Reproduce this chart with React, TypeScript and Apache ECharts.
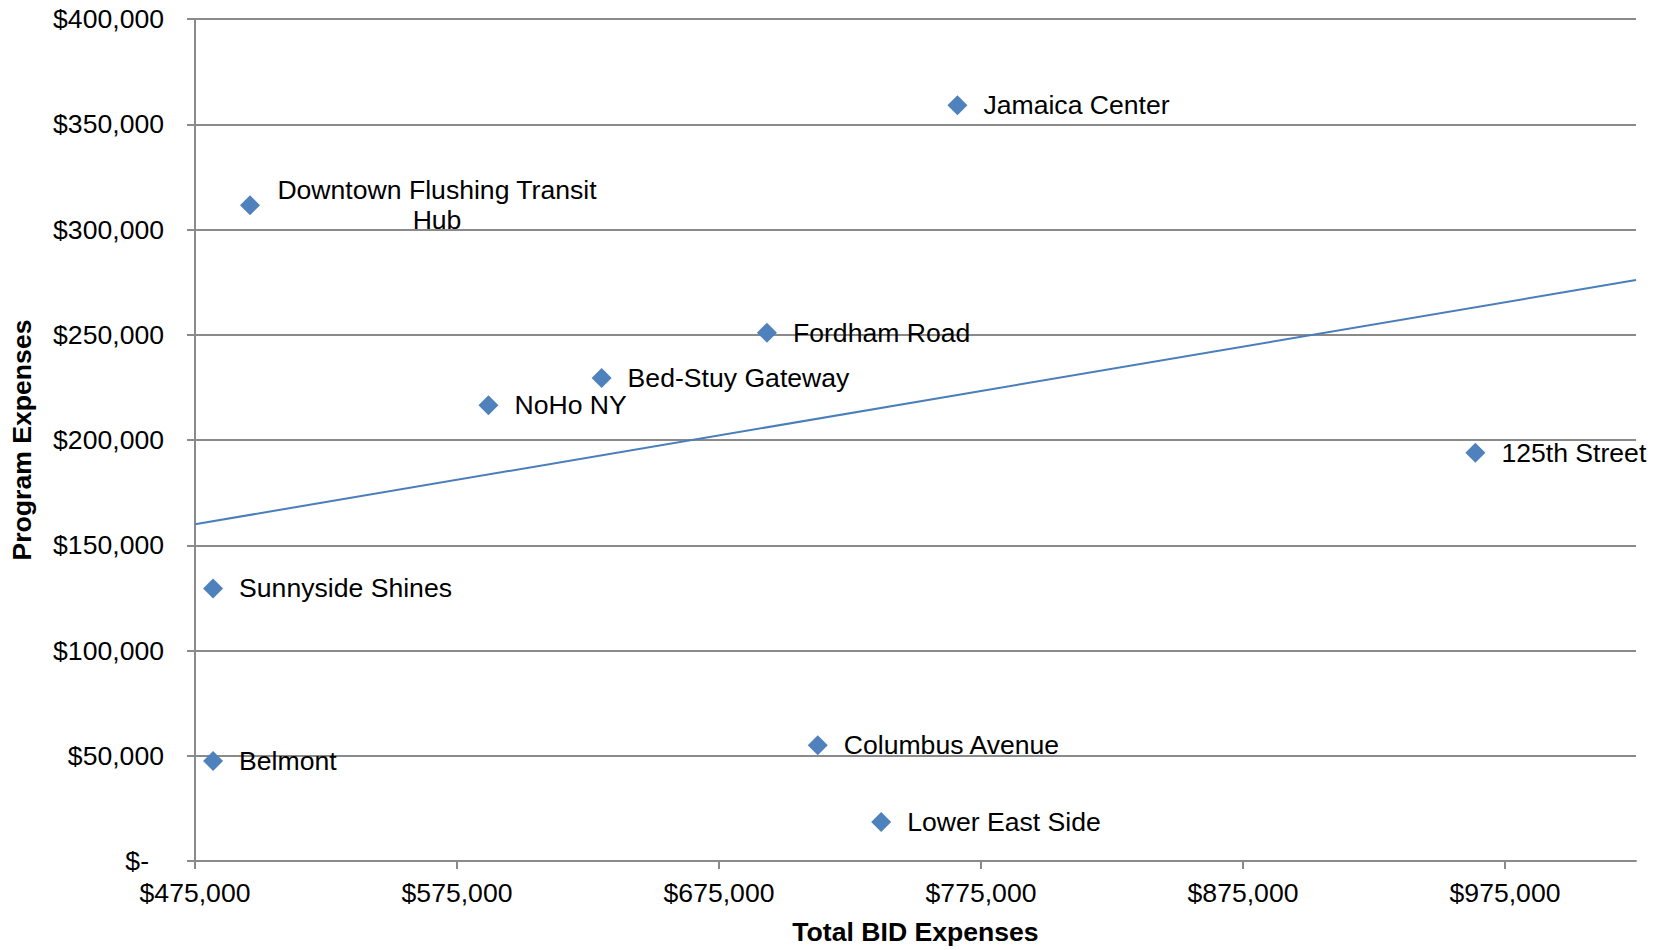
import React, { useEffect, useRef } from "react";
import * as echarts from "echarts";

const bidNames = [
  "Jamaica Center",
  "Downtown Flushing Transit\nHub",
  "Fordham Road",
  "Bed-Stuy Gateway",
  "NoHo NY",
  "125th Street",
  "Sunnyside Shines",
  "Belmont",
  "Columbus Avenue",
  "Lower East Side",
];
const totalBidExpenses = [766000, 496000, 693300, 630200, 587000, 963700, 481900, 481900, 712700, 736900];
const programExpenses = [359000, 311500, 251000, 229500, 216500, 194000, 129500, 47500, 55000, 18500];
const trendX = [475000, 1025000];
const trendY = [160000, 276000];
const xTickValues = [475000, 575000, 675000, 775000, 875000, 975000];

const FONT = "'Liberation Sans', Arial, sans-serif";
const FS = 26.6;
const GRID_GRAY = "#8a8a8a";
const MARKER_BLUE = "#4F81BD";

const money = (v: number) => "$" + Math.round(v).toLocaleString("en-US");

export default function App() {
  const ref = useRef<HTMLDivElement>(null);
  useEffect(() => {
    if (!ref.current) return;
    const chart = echarts.init(ref.current, null, { renderer: "svg" });
    const scatterData = totalBidExpenses.map((x, i) => {
      const item: any = { name: bidNames[i], value: [x, programExpenses[i]] };
      if (i === 1) {
        item.label = { align: "center", offset: [161, 0] };
      }
      return item;
    });
    chart.setOption({
      animation: false,
      backgroundColor: "#ffffff",
      textStyle: { fontFamily: FONT },
      grid: { left: 194, right: 24, top: 19, bottom: 85, containLabel: false },
      xAxis: {
        type: "value",
        min: 475000,
        max: 1025000,
        name: "Total BID Expenses",
        nameLocation: "middle",
        nameGap: 57,
        nameTextStyle: { fontFamily: FONT, fontSize: FS, fontWeight: "bold", color: "#000" },
        axisLine: { show: true, lineStyle: { color: GRID_GRAY, width: 2 } },
        axisTick: { show: true, length: 8, customValues: xTickValues, lineStyle: { color: GRID_GRAY, width: 2 } },
        axisLabel: {
          customValues: xTickValues,
          formatter: (v: number) => money(v),
          fontFamily: FONT,
          fontSize: FS,
          color: "#000",
          margin: 18,
        },
        splitLine: { show: false },
      },
      yAxis: {
        type: "value",
        min: 0,
        max: 400000,
        interval: 50000,
        name: "Program Expenses",
        nameLocation: "middle",
        nameGap: 160,
        nameTextStyle: { fontFamily: FONT, fontSize: FS, fontWeight: "bold", color: "#000" },
        axisLine: { show: true, lineStyle: { color: GRID_GRAY, width: 2 } },
        axisTick: { show: true, length: 8, lineStyle: { color: GRID_GRAY, width: 2 } },
        axisLabel: {
          formatter: (v: number) => (v === 0 ? "{z|$-}" : money(v)),
          fontFamily: FONT,
          fontSize: FS,
          color: "#000",
          margin: 31,
          rich: { z: { fontFamily: FONT, fontSize: FS, color: "#000", padding: [0, 15, 0, 0] } },
        },
        splitLine: { show: true, lineStyle: { color: GRID_GRAY, width: 2 } },
      },
      series: [
        {
          type: "line",
          data: trendX.map((x, i) => [x, trendY[i]]),
          symbol: "none",
          silent: true,
          lineStyle: { color: "#4A7EBB", width: 2 },
          z: 2,
        },
        {
          type: "scatter",
          symbol: "diamond",
          symbolSize: 20,
          itemStyle: { color: MARKER_BLUE, opacity: 1 },
          data: scatterData,
          z: 3,
          label: {
            show: true,
            position: "right",
            distance: 16,
            formatter: (p: any) => p.name,
            fontFamily: FONT,
            fontSize: FS,
            lineHeight: 30,
            color: "#000",
          },
        },
      ],
    });
    return () => chart.dispose();
  }, []);
  return (
    <div
      ref={ref}
      style={{ position: "fixed", left: 0, top: 0, width: 1660, height: 950, background: "#fff" }}
    />
  );
}
